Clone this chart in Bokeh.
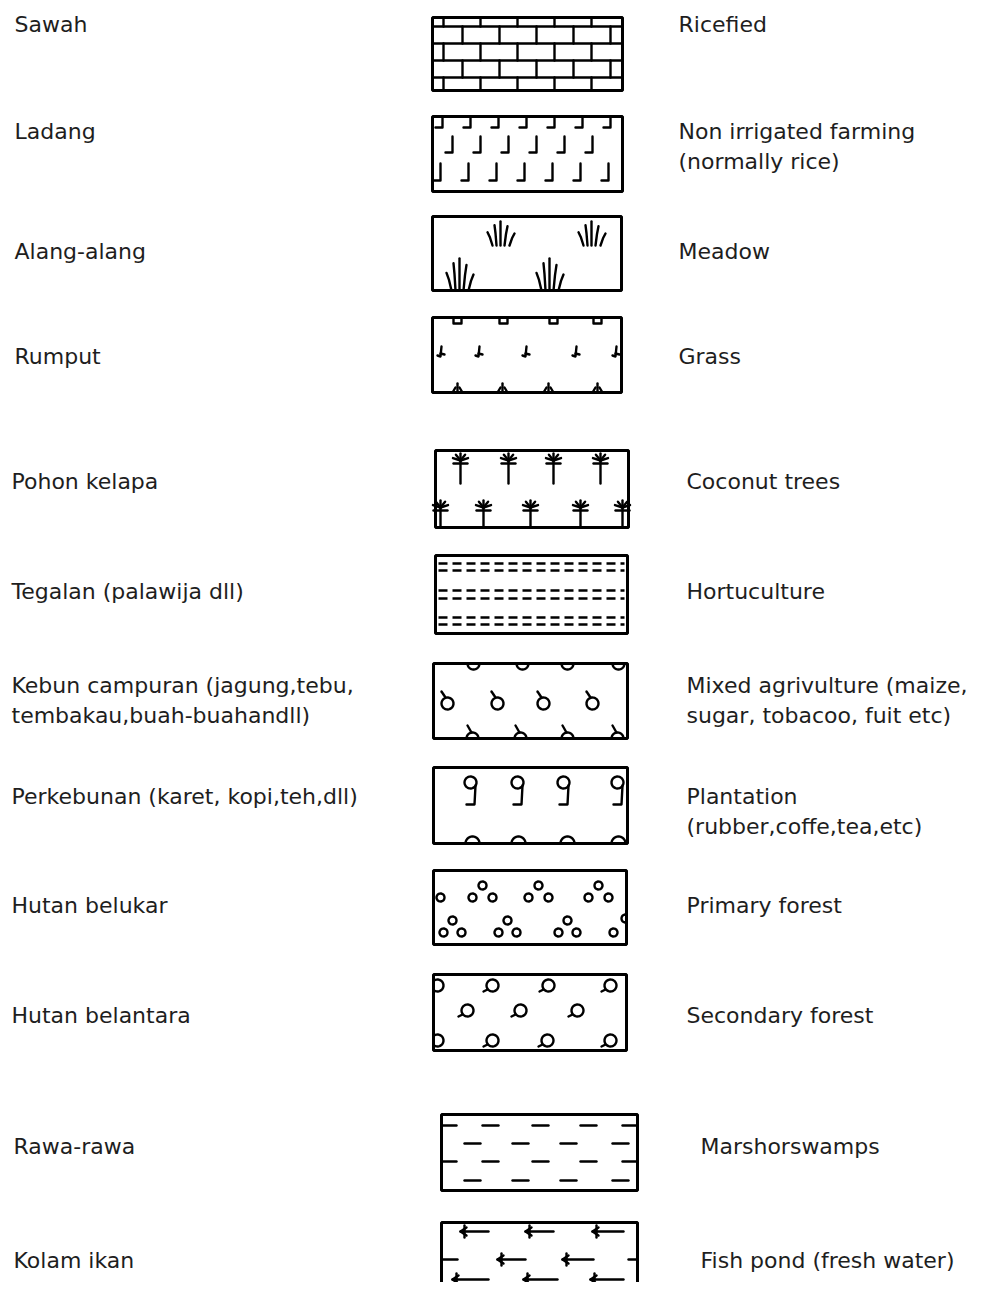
import numpy as np
from bokeh.plotting import figure
from bokeh.models import Range1d, ColumnDataSource
from bokeh.core.properties import value
from bokeh.embed import file_html
from bokeh.resources import INLINE

# ---------------- content ----------------
left_labels = [
    ["Sawah"], ["Ladang"], ["Alang-alang"], ["Rumput"], ["Pohon kelapa"],
    ["Tegalan (palawija dll)"],
    ["Kebun campuran (jagung,tebu,", "tembakau,buah-buahandll)"],
    ["Perkebunan (karet, kopi,teh,dll)"], ["Hutan belukar"], ["Hutan belantara"],
    ["Rawa-rawa"], ["Kolam ikan"],
]
right_labels = [
    ["Ricefied"], ["Non irrigated farming", "(normally rice)"], ["Meadow"], ["Grass"],
    ["Coconut trees"], ["Hortuculture"],
    ["Mixed agrivulture (maize,", "sugar, tobacoo, fuit etc)"],
    ["Plantation", "(rubber,coffe,tea,etc)"],
    ["Primary forest"], ["Secondary forest"], ["Marshorswamps"], ["Fish pond (fresh water)"],
]
patterns = ["brick", "hook", "tuft", "grass", "palm", "dashlines",
            "knob", "nine", "cluster", "ring", "dash", "arrow"]

# ---------------- layout (pixel positions) ----------------
box_l = [432, 432, 432, 432, 435, 435, 433, 433, 433, 433, 441, 441]
box_r = [622, 622, 621, 621, 628, 627, 627, 627, 626, 626, 637, 637]
box_t = [17, 116, 216, 317, 450, 555, 663, 767, 870, 974, 1114, 1222]
box_b = [90, 191, 290, 392, 527, 633, 738, 843, 944, 1050, 1190, 1320]
text_y = [24, 131, 251, 356, 481, 591, 685, 796, 905, 1015, 1146, 1260]
left_x = [14, 14, 14, 14, 11, 11, 11, 11, 11, 11, 13, 13]
right_x = [678, 678, 678, 678, 686, 686, 686, 686, 686, 686, 700, 700]
LINE_GAP = 30

W, H = 978, 1282
p = figure(width=W, height=H, x_range=Range1d(0, W), y_range=Range1d(H, 0),
           output_backend="svg", toolbar_location=None,
           x_axis_location=None, y_axis_location=None, min_border=0)
p.grid.visible = False
p.outline_line_color = None
p.background_fill_color = "white"
p.border_fill_color = "white"

XS, YS = [], []
DX, DY = [], []


def seg(x0, y0, x1, y1):
    XS.append([x0, x1]); YS.append([y0, y1])


def poly(xs, ys):
    XS.append(list(xs)); YS.append(list(ys))


def arc(cx, cy, r, a0, a1, l=None, rr=None, n=24):
    th = np.linspace(a0, a1, n)
    x = cx + r * np.cos(th)
    y = cy + r * np.sin(th)
    m = np.ones_like(x, dtype=bool)
    if l is not None:
        m &= x >= l + 1
    if rr is not None:
        m &= x <= rr - 1
    if m.sum() > 1:
        poly(x[m], y[m])


def circle(cx, cy, r, l, rr):
    # start at the side nearer the edge so clipping keeps one piece
    if cx - l < rr - cx:
        arc(cx, cy, r, np.pi, 3 * np.pi, l, rr)
    else:
        arc(cx, cy, r, 0, 2 * np.pi, l, rr)


def brick(l, r, t, b):
    rows = [t, t + 9, t + 26, t + 43, t + 60, b]
    for y in rows[1:-1]:
        seg(l, y, r, y)
    for i in range(5):
        off = 11 if i % 2 == 0 else 30
        x = l + off
        while x < r - 2:
            seg(x, rows[i], x, rows[i + 1])
            x += 37


def hook(l, r, t, b):
    rows = [(t + 1, t + 11, 10), (t + 20, t + 36, 20), (t + 47, t + 64, 8)]
    for y0, y1, off in rows:
        x = l + off
        while x < r - 2:
            poly([x, x, x - 7], [y0, y1, y1])
            x += 28


def tuft(cx, base, h):
    bx = [-9, -5, -1, 3, 8]
    tx = [-14, -7, -1, 6, 13]
    hh = [0.55, 0.85, 1.0, 0.8, 0.5]
    for a, c, k in zip(bx, tx, hh):
        poly([cx + a, cx + (a + c) / 2, cx + c], [base, base - h * k * 0.6, base - h * k])


def tufts(l, r, t, b):
    tuft(l + 69, t + 29, 24)
    tuft(l + 160, t + 29, 24)
    tuft(l + 28, b, 32)
    tuft(l + 118, b, 32)


def grass(l, r, t, b):
    for o in [25, 71, 121, 165]:
        poly([l + o - 4, l + o - 4, l + o + 4, l + o + 4], [t, t + 6, t + 6, t])
    for o in [8, 46, 93, 143, 183]:
        x = l + o
        y = t + 35
        poly([x + 1, x, x - 3], [y - 6, y + 4, y + 3])
        seg(x, y + 1, x + 4, y + 2)
    for o in [25, 70, 116, 165]:
        x = l + o
        seg(x, b, x, b - 9)
        seg(x - 5, b, x - 2, b - 5)
        seg(x + 5, b, x + 2, b - 5)


def palm(x, ytop, ybot):
    seg(x, ytop, x, ybot)
    for ang in [200, 235, 270, 305, 340]:
        a = np.radians(ang)
        seg(x, ytop, x + 8 * np.cos(a), ytop + 7 * np.sin(a))
    seg(x - 7, ytop + 3, x + 7, ytop + 3)


def palms(l, r, t, b):
    for o in [25, 73, 118, 165]:
        palm(l + o, t + 10, t + 33)
    for o in [5, 48, 95, 145, 187]:
        palm(l + o, t + 57, b)


def dashlines(l, r, t, b):
    for o in [8, 15, 35, 43, 62, 69]:
        DX.append([l + 3, r - 3]); DY.append([t + o, t + o])


def knob(l, r, t, b):
    for o in [40, 89, 134, 185]:
        arc(l + o, t, 6, 0, np.pi, l, r)
    for o in [14, 64, 110, 159]:
        cx, cy = l + o, t + 40
        circle(cx, cy, 6, l, r)
        seg(cx - 6, cy - 12, cx - 2, cy - 6)
    for o in [39, 87, 134, 184]:
        cx, cy = l + o, b
        arc(cx, cy, 6, np.pi, 2 * np.pi, l, r)
        seg(cx - 5, cy - 13, cx - 1, cy - 6)


def nine(l, r, t, b):
    for o in [37, 84, 130, 184]:
        cx, cy = l + o, t + 15
        circle(cx, cy, 6, l, r)
        poly([cx + 5, cx + 4, cx - 4], [cy + 3, cy + 22, cy + 22])
    for o in [39, 85, 134, 185]:
        arc(l + o, b, 7, np.pi, 2 * np.pi, l, r)


def cluster(l, r, t, b):
    rad = 4
    for o in [49, 105, 165]:
        circle(l + o, t + 15, rad, l, r)
        circle(l + o - 10, t + 27, rad, l, r)
        circle(l + o + 10, t + 27, rad, l, r)
    circle(l + 7, t + 27, rad, l, r)
    for o in [19, 74, 134]:
        circle(l + o, t + 50, rad, l, r)
        circle(l + o - 9, t + 62, rad, l, r)
        circle(l + o + 9, t + 62, rad, l, r)
    circle(l + 180, t + 62, rad, l, r)
    circle(l + 192, t + 48, rad, l, r)


def ring(l, r, t, b):
    rows = [(11, [4, 59, 115, 177]), (36, [34, 87, 144]), (66, [4, 59, 114, 177])]
    for yo, xs in rows:
        for o in xs:
            cx, cy = l + o, t + yo
            circle(cx, cy, 6, l, r)
            if cx - 9 > l:
                seg(cx - 5, cy + 4, cx - 9, cy + 6)


def dash(l, r, t, b):
    for i, yo in enumerate([11, 29, 47, 66]):
        xs = [7, 49, 99, 147, 189] if i % 2 == 0 else [31, 79, 127, 179]
        for o in xs:
            x0 = max(l, l + o - 8)
            x1 = min(r, l + o + 8)
            seg(x0, t + yo, x1, t + yo)


def arrow(hx, tx, y):
    seg(hx, y, tx, y)
    poly([hx + 6, hx, hx + 6], [y - 4, y, y + 4])
    seg(hx + 4, y - 6, hx + 4, y + 6)


def arrows(l, r, t, b):
    for yo, segs in [(9, [(19, 47), (84, 112), (151, 182)]),
                     (37, [(56, 84), (121, 152)]),
                     (57, [(11, 47), (82, 116), (149, 182)])]:
        for a, c in segs:
            arrow(l + a, l + c, t + yo)
    seg(l, t + 37, l + 16, t + 37)
    seg(r - 9, t + 37, r, t + 37)


drawers = {"brick": brick, "hook": hook, "tuft": tufts, "grass": grass, "palm": palms,
           "dashlines": dashlines, "knob": knob, "nine": nine, "cluster": cluster,
           "ring": ring, "dash": dash, "arrow": arrows}

for i, pat in enumerate(patterns):
    drawers[pat](box_l[i], box_r[i], box_t[i], box_b[i])

p.multi_line(XS, YS, line_color="black", line_width=2.4, line_cap="round", line_join="round")
p.multi_line(DX, DY, line_color="black", line_width=2.4, line_dash="9 5")

p.quad(left=box_l, right=box_r, top=box_t, bottom=box_b,
       fill_color=None, line_color="black", line_width=3)

# ---------------- texts ----------------
tx, ty, tt = [], [], []
for i in range(len(left_labels)):
    for j, s in enumerate(left_labels[i]):
        tx.append(left_x[i]); ty.append(text_y[i] + j * LINE_GAP); tt.append(s)
    for j, s in enumerate(right_labels[i]):
        tx.append(right_x[i]); ty.append(text_y[i] + j * LINE_GAP); tt.append(s)

src = ColumnDataSource(dict(x=tx, y=ty, text=tt))
p.text(x="x", y="y", text="text", source=src, text_font=value("DejaVu Sans"),
       text_font_size="22px", text_color="#1e1e1e", text_baseline="middle", text_align="left")

open("out.html", "w").write(file_html(p, INLINE))
